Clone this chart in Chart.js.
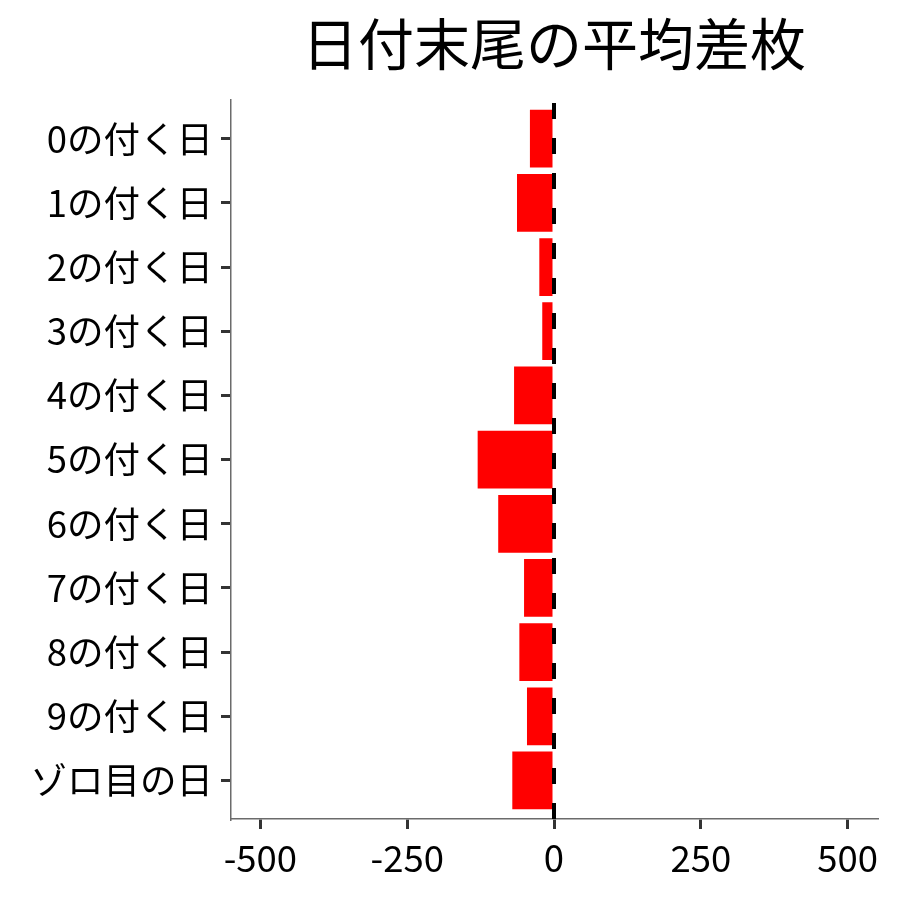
<!DOCTYPE html>
<html>
<head>
<meta charset="utf-8">
<script src="https://cdn.jsdelivr.net/npm/chart.js@4"></script>
<style>
  html, body { margin: 0; padding: 0; background: #fff; }
</style>
</head>
<body>
<canvas id="chart" width="900" height="900"></canvas>
<script>
// --- Data ---
const labels = ["0の付く日", "1の付く日", "2の付く日", "3の付く日", "4の付く日",
                "5の付く日", "6の付く日", "7の付く日", "8の付く日", "9の付く日", "ゾロ目の日"];
const values = [-41, -63, -25, -20, -68, -130, -95, -51, -59, -46, -71];
const xTicks = [-500, -250, 0, 250, 500];

const FONT = "'Noto Sans CJK JP', 'Noto Sans', sans-serif";

// dashed vertical line at x = 0
const zeroLine = {
  id: "zeroLine",
  afterDatasetsDraw(chart) {
    const { ctx, chartArea, scales } = chart;
    const x = scales.x.getPixelForValue(0);
    ctx.save();
    ctx.strokeStyle = "#000";
    ctx.lineWidth = 4;
    ctx.setLineDash([16, 19]);
    ctx.beginPath();
    ctx.moveTo(x, chartArea.bottom);   // ggplot draws from the bottom up
    ctx.lineTo(x, chartArea.top);
    ctx.stroke();
    ctx.restore();
  }
};

new Chart(document.getElementById("chart"), {
  type: "bar",
  data: {
    datasets: [{
      data: values.map((v, i) => ({ x: v, y: i })),
      backgroundColor: "#ff0000",
      borderWidth: 0,
      barPercentage: 0.9,
      categoryPercentage: 1
    }]
  },
  options: {
    indexAxis: "y",
    responsive: false,
    animation: false,
    devicePixelRatio: 1,
    layout: { padding: { left: 0, right: 23, top: 0, bottom: 0 } },
    plugins: {
      legend: { display: false },
      tooltip: { enabled: false },
      title: {
        display: true,
        text: "日付末尾の平均差枚",
        fullSize: false,
        color: "#000",
        font: { family: FONT, size: 56, weight: "normal", lineHeight: 1.2 },
        padding: { top: 10, bottom: 23 }
      }
    },
    scales: {
      x: {
        type: "linear",
        min: -550,
        max: 550,
        afterBuildTicks: s => { s.ticks = xTicks.map(v => ({ value: v })); },
        afterFit: s => { s.height = 81; },
        grid: { drawOnChartArea: false, drawTicks: true, tickLength: 10, lineWidth: 3, tickWidth: 3, tickColor: "#333" },
        border: { color: "#6b6b6b", width: 1.5 },
        ticks: { color: "#000", padding: 7, font: { family: FONT, size: 36.5 } }
      },
      y: {
        type: "linear",
        min: -0.6,
        max: 10.6,
        offset: false,
        reverse: true,
        afterBuildTicks: s => { s.ticks = labels.map((_, i) => ({ value: i })); },
        afterFit: s => { s.width = 231; },
        grid: { offset: false, drawOnChartArea: false, drawTicks: true, tickLength: 10, lineWidth: 3, tickWidth: 3, tickColor: "#333" },
        border: { color: "#6b6b6b", width: 1.5 },
        ticks: {
          color: "#000",
          padding: 8,
          font: { family: FONT, size: 36.5 },
          callback: v => labels[v]
        }
      }
    }
  },
  plugins: [zeroLine]
});
</script>
</body>
</html>
